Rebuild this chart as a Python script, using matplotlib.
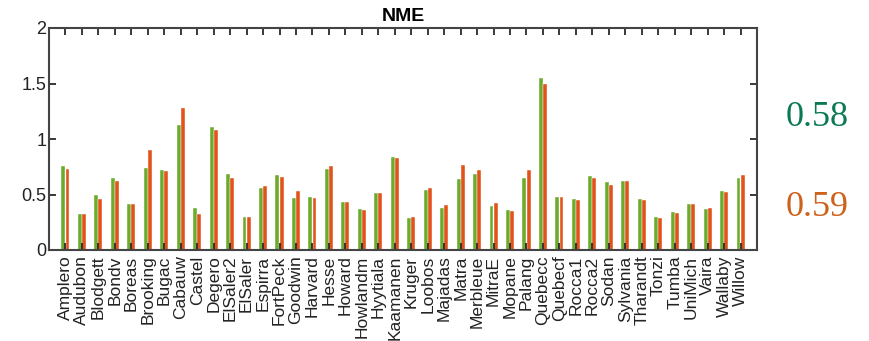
import numpy as np
import matplotlib
matplotlib.use("Agg")
import matplotlib.pyplot as plt

# Site names and NME scores for the two model runs
sites = ["Amplero", "Audubon", "Blodgett", "Bondv", "Boreas", "Brooking", "Bugac",
         "Cabauw", "Castel", "Degero", "ElSaler2", "ElSaler", "Espirra", "FortPeck",
         "Goodwin", "Harvard", "Hesse", "Howard", "Howlandm", "Hyytiala", "Kaamanen",
         "Kruger", "Loobos", "Majadas", "Matra", "Merbleue", "MitraE", "Mopane",
         "Palang", "Quebecc", "Quebecf", "Rocca1", "Rocca2", "Sodan", "Sylvania",
         "Tharandt", "Tonzi", "Tumba", "UniMich", "Vaira", "Wallaby", "Willow"]

nme_green = [0.757, 0.327, 0.495, 0.646, 0.414, 0.736, 0.721, 1.126, 0.375, 1.111,
             0.685, 0.300, 0.556, 0.673, 0.468, 0.477, 0.733, 0.435, 0.366, 0.517,
             0.841, 0.291, 0.538, 0.381, 0.640, 0.685, 0.399, 0.363, 0.652, 1.550,
             0.477, 0.459, 0.667, 0.610, 0.622, 0.459, 0.300, 0.342, 0.411, 0.366,
             0.535, 0.646]

nme_orange = [0.733, 0.324, 0.459, 0.625, 0.414, 0.901, 0.709, 1.276, 0.321, 1.081,
              0.652, 0.297, 0.580, 0.655, 0.529, 0.465, 0.754, 0.435, 0.357, 0.514,
              0.832, 0.294, 0.562, 0.402, 0.766, 0.718, 0.420, 0.354, 0.721, 1.492,
              0.477, 0.453, 0.652, 0.589, 0.625, 0.453, 0.288, 0.330, 0.411, 0.381,
              0.526, 0.676]

mean_green = "0.58"
mean_orange = "0.59"

plt.rcParams["font.family"] = ["Liberation Sans", "DejaVu Sans"]

fig = plt.figure(figsize=(8.69, 3.41), dpi=100)
ax = fig.add_axes([49 / 869, 1 - 250 / 341, 708 / 869, 222 / 341])

x = np.arange(1, len(sites) + 1)
w = 0.24
ax.bar(x - 0.125, nme_green, width=w, color="#6cab2c", edgecolor="white", linewidth=0.3, zorder=1)
ax.bar(x + 0.125, nme_orange, width=w, color="#e1531b", edgecolor="white", linewidth=0.3, zorder=1)

ax.set_xlim(0, len(sites) + 1)
ax.set_ylim(0, 2)
ax.set_xticks(x)
ax.set_xticklabels(sites, rotation=90, fontsize=12.5)
ax.set_yticks([0, 0.5, 1, 1.5, 2])
ax.set_yticklabels(["0", "0.5", "1", "1.5", "2"], fontsize=13)
ax.tick_params(direction="in", length=5, width=1.3, color="#2a2a2a",
               top=True, right=True, labelcolor="#222222")
ax.tick_params(axis="y", pad=2)
ax.tick_params(axis="x", pad=4)
for s in ax.spines.values():
    s.set_linewidth(1.5)
    s.set_color("#444444")
    s.set_zorder(3)

ax.set_title("NME", fontsize=14, fontweight="bold", pad=5)

fig.text(786 / 869, 1 - 118 / 341, mean_green, color="#0b7a52", fontsize=26,
         family="Liberation Serif", va="center", ha="left")
fig.text(786 / 869, 1 - 208 / 341, mean_orange, color="#cc621c", fontsize=26,
         family="Liberation Serif", va="center", ha="left")

fig.savefig("out.png", dpi=100)
